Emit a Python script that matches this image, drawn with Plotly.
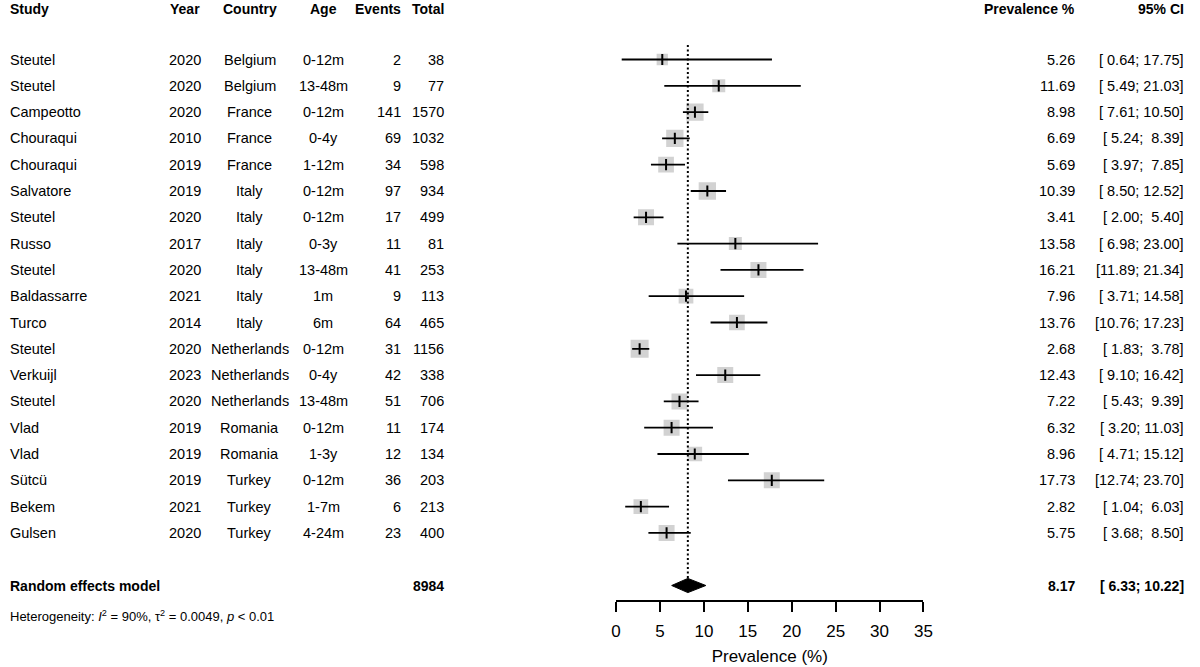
import plotly.graph_objects as go
import math

# ---------------- data ----------------
studies = ["Steutel", "Steutel", "Campeotto", "Chouraqui", "Chouraqui", "Salvatore", "Steutel",
           "Russo", "Steutel", "Baldassarre", "Turco", "Steutel", "Verkuijl", "Steutel",
           "Vlad", "Vlad", "Sütcü", "Bekem", "Gulsen"]
years = [2020, 2020, 2020, 2010, 2019, 2019, 2020, 2017, 2020, 2021, 2014, 2020, 2023, 2020,
         2019, 2019, 2019, 2021, 2020]
countries = ["Belgium", "Belgium", "France", "France", "France", "Italy", "Italy", "Italy",
             "Italy", "Italy", "Italy", "Netherlands", "Netherlands", "Netherlands",
             "Romania", "Romania", "Turkey", "Turkey", "Turkey"]
ages = ["0-12m", "13-48m", "0-12m", "0-4y", "1-12m", "0-12m", "0-12m", "0-3y", "13-48m", "1m",
        "6m", "0-12m", "0-4y", "13-48m", "0-12m", "1-3y", "0-12m", "1-7m", "4-24m"]
events = [2, 9, 141, 69, 34, 97, 17, 11, 41, 9, 64, 31, 42, 51, 11, 12, 36, 6, 23]
totals = [38, 77, 1570, 1032, 598, 934, 499, 81, 253, 113, 465, 1156, 338, 706, 174, 134, 203,
          213, 400]
prevalence = [5.26, 11.69, 8.98, 6.69, 5.69, 10.39, 3.41, 13.58, 16.21, 7.96, 13.76, 2.68,
              12.43, 7.22, 6.32, 8.96, 17.73, 2.82, 5.75]
ci_low = [0.64, 5.49, 7.61, 5.24, 3.97, 8.50, 2.00, 6.98, 11.89, 3.71, 10.76, 1.83, 9.10,
          5.43, 3.20, 4.71, 12.74, 1.04, 3.68]
ci_high = [17.75, 21.03, 10.50, 8.39, 7.85, 12.52, 5.40, 23.00, 21.34, 14.58, 17.23, 3.78,
           16.42, 9.39, 11.03, 15.12, 23.70, 6.03, 8.50]
# approximate random-effects weights (%), read from square sizes
weights = [2.76, 3.66, 6.48, 6.48, 5.33, 6.48, 5.54, 3.66, 5.54, 4.68, 5.33, 7.01, 5.54, 5.54,
           5.54, 4.68, 5.54, 4.68, 5.54]

re_label = "Random effects model"
re_total = 8984
re_est = 8.17
re_low = 6.33
re_high = 10.22
het_text = "Heterogeneity: <i>I</i><sup>2</sup> = 90%, τ<sup>2</sup> = 0.0049, <i>p</i> &lt; 0.01"

x_ticks = [0, 5, 10, 15, 20, 25, 30, 35]
x_title = "Prevalence (%)"
headers = ["Study", "Year", "Country", "Age", "Events", "Total", "Prevalence %", "95% CI"]

# ---------------- layout constants ----------------
W, H = 1200, 667
PLOT_BOTTOM = 600          # px of x-axis line
ROW0 = 59.5                # px of first study row
ROW_H = 26.3               # px per row
HET_PX = 616               # px of heterogeneity line
n = len(studies)
rows = list(range(n))
re_row = n + 1
head_row = (8.5 - ROW0) / ROW_H
y_top = (0 - ROW0) / ROW_H
y_bottom = (PLOT_BOTTOM - ROW0) / ROW_H

FONT = "Liberation Sans, Arial, sans-serif"
FS = 14.5
FSB = 14

fig = go.Figure()

# squares (weights)
wmax = max(weights)
sizes = [18 * math.sqrt(w / wmax) for w in weights]
fig.add_trace(go.Scatter(x=prevalence, y=rows, mode="markers",
                         marker=dict(symbol="square", size=sizes, color="#bfbfbf",
                                     line=dict(width=0)),
                         hoverinfo="skip"))
# CI lines
xs, ys = [], []
for lo_, hi_, r in zip(ci_low, ci_high, rows):
    xs += [lo_, hi_, None]
    ys += [r, r, None]
fig.add_trace(go.Scatter(x=xs, y=ys, mode="lines", line=dict(color="black", width=1.8),
                         hoverinfo="skip"))
# point ticks
fig.add_trace(go.Scatter(x=prevalence, y=rows, mode="markers",
                         marker=dict(symbol="line-ns", size=8,
                                     line=dict(width=2, color="black")),
                         hoverinfo="skip"))
# reference dotted line at pooled estimate
fig.add_trace(go.Scatter(x=[re_est, re_est], y=[-0.55, re_row], mode="lines",
                         line=dict(color="black", width=2, dash="2px,2.5px"),
                         hoverinfo="skip"))
# diamond
dh = 0.27
fig.add_trace(go.Scatter(x=[re_low, re_est, re_high, re_est, re_low],
                         y=[re_row, re_row - dh, re_row, re_row + dh, re_row],
                         mode="lines", fill="toself", fillcolor="black",
                         line=dict(color="black", width=1), hoverinfo="skip"))

ann = []


def add(text, xpx, yrow, anchor, size=FS, bold=False):
    t = f"<b>{text}</b>" if bold else text
    ann.append(dict(text=t, x=xpx / W, xref="paper", y=yrow, yref="y", xanchor=anchor,
                    yanchor="middle", showarrow=False,
                    font=dict(family=FONT, size=size, color="black")))


col_x = [3, 182.5, 247.5, 322, 403, 446, 1085, 1195]
col_anchor = ["left", "center", "center", "center", "right", "right", "right", "right"]
for h, xp, a in zip(headers, col_x, col_anchor):
    add(h, xp, head_row, a, FSB, True)

for i in rows:
    vals = [studies[i], str(years[i]), countries[i], ages[i], str(events[i]), str(totals[i]),
            f"{prevalence[i]:.2f}", f"[{ci_low[i]:5.2f}; {ci_high[i]:5.2f}]"]
    for v, xp, a in zip(vals, col_x, col_anchor):
        add(v, xp, i, a)

add(re_label, 3, re_row, "left", FSB, True)
add(str(re_total), 446, re_row, "right", FSB, True)
add(f"{re_est:.2f}", 1085, re_row, "right", FSB, True)
add(f"[{re_low:5.2f}; {re_high:5.2f}]", 1195, re_row, "right", FSB, True)
# heterogeneity line lies below the plot area -> paper coordinates
ann.append(dict(text=het_text, x=3 / W, xref="paper",
                y=(PLOT_BOTTOM - HET_PX) / PLOT_BOTTOM, yref="paper",
                xanchor="left", yanchor="middle", showarrow=False,
                font=dict(family=FONT, size=13, color="black")))

fig.update_layout(
    width=W, height=H,
    margin=dict(l=0, r=0, t=0, b=H - PLOT_BOTTOM, pad=0),
    paper_bgcolor="white", plot_bgcolor="white",
    showlegend=False,
    font=dict(family=FONT, size=FS, color="black"),
    annotations=ann,
    xaxis=dict(domain=[618.3 / W, 929.3 / W], range=[0, 35], tickvals=x_ticks,
               showline=True, linecolor="black", linewidth=2,
               ticks="outside", ticklen=10, tickwidth=2, tickcolor="black",
               ticklabelstandoff=5,
               showgrid=False, zeroline=False,
               tickfont=dict(family=FONT, size=17, color="black"),
               title=dict(text=x_title, font=dict(family=FONT, size=17, color="black"),
                          standoff=10)),
    yaxis=dict(range=[y_bottom, y_top], visible=False, showgrid=False, zeroline=False),
)

fig.write_html("out.html", config={"displayModeBar": False},
               post_script="document.body.style.margin='0';document.body.style.overflow='hidden';")
